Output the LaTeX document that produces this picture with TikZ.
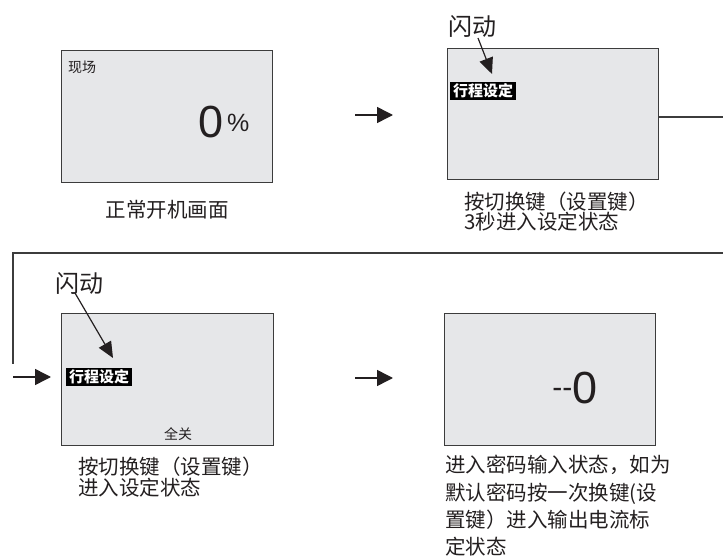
\documentclass[tikz,border=0pt]{standalone}
\usepackage{fontspec}
\setmainfont{Liberation Sans}
\newfontfamily\cjk{Noto Sans CJK SC}
\usetikzlibrary{arrows.meta}
\definecolor{screen}{HTML}{E6E7E9}
\definecolor{frame}{HTML}{3C3C3C}
\definecolor{ink}{HTML}{231F20}
\begin{document}
\begin{tikzpicture}[x=1pt,y=-1pt,
  screenbox/.style={draw=frame, line width=1.3pt, fill=screen, minimum width=211pt,
    minimum height=132pt, inner sep=0pt, anchor=north west},
  captxt/.style={font=\cjk\fontsize{20.5}{20.5}\selectfont, inner sep=0pt, anchor=base west, text=ink},
  flashtxt/.style={font=\cjk\fontsize{24}{24}\selectfont, inner sep=0pt, anchor=base west, text=ink},
  smalltxt/.style={font=\cjk\fontsize{14}{14}\selectfont, inner sep=0pt, text=ink},
  tagbox/.style={fill=black, text=white, font=\cjk\bfseries\fontsize{15}{15}\selectfont,
    inner xsep=3pt, inner ysep=2pt, anchor=west},
  bigtxt/.style={font=\fontsize{45}{45}\selectfont, inner sep=0pt, text=ink},
  flowarrow/.style={line width=1.5pt, draw=ink, -{Triangle[length=16pt,width=16pt]}},
  hintarrow/.style={line width=1.2pt, draw=ink, -{Triangle[length=16pt,width=14pt]}},
  loopline/.style={line width=1.2pt, draw=frame}
]
\useasboundingbox (0,0) rectangle (723,556);

% screens
\node[screenbox] (s1) at (61,50) {};
\node[screenbox, minimum height=131pt] (s2) at (447,48) {};
\node[screenbox, minimum width=212pt] (s3) at (61,313) {};
\node[screenbox] (s4) at (444,313) {};

% screen 1
\node[smalltxt, anchor=base west] (s1t) at (68,72.5) {现场};
\node[bigtxt, anchor=base] (s1n) at (211,138) {0};
\node[font=\fontsize{25}{25}\selectfont, inner sep=0pt, text=ink, anchor=base west] (s1p) at (227,132) {\%};
\node[captxt, anchor=base] (c1) at (167,217.5) {正常开机画面};

% screen 2
\node[flashtxt] (f2) at (448,36) {闪动};
\node[tagbox] (t2) at (450,91) {行程设定};
\coordinate (f2a) at (478,38);
\coordinate (f2b) at (492,74);
\draw[hintarrow] (f2a) -- (f2b);
\node[captxt] (c2a) at (464,209.5) {按切换键（设置键）};
\node[captxt] (c2b) at (464,229.5) {3秒进入设定状态};

% screen 3
\node[flashtxt] (f3) at (55,292) {闪动};
\node[tagbox] (t3) at (66,377) {行程设定};
\coordinate (f3a) at (75,293);
\coordinate (f3b) at (113,358);
\draw[hintarrow] (f3a) -- (f3b);
\node[smalltxt, anchor=base] (s3t) at (178,439.5) {全关};
\node[captxt] (c3a) at (78,474.5) {按切换键（设置键）};
\node[captxt] (c3b) at (78,495.5) {进入设定状态};

% screen 4
\node[bigtxt, anchor=base east] (s4n) at (598,403) {0};
\node[font=\fontsize{30}{30}\selectfont, inner sep=0pt, text=ink, anchor=base east] (s4d) at (s4n.base west) {\raisebox{6pt}{{-}{-}}};
\node[captxt] (c4a) at (445,472.5) {进入密码输入状态，如为};
\node[captxt] (c4b) at (445,500.5) {默认密码按一次换键(设};
\node[captxt] (c4c) at (445,527.5) {置键）进入输出电流标};
\node[captxt] (c4d) at (445,554.5) {定状态};

% flow arrows
\coordinate (a1s) at (355,115);
\coordinate (a1e) at (393,115);
\draw[flowarrow] (a1s) -- (a1e);
\coordinate (a2s) at (355,378);
\coordinate (a2e) at (393,378);
\draw[flowarrow] (a2s) -- (a2e);
\coordinate (a3s) at (13,377);
\coordinate (a3e) at (51,377);
\draw[flowarrow] (a3s) -- (a3e);

% loop line from screen 2 back to screen 3
\coordinate (l1) at (728,117);
\coordinate (l2) at (728,253);
\coordinate (l3) at (13,253);
\coordinate (l4) at (13,364);
\draw[loopline] (s2.east |- l1) -- (l1) -- (l2) -- (l3) -- (l4);
\end{tikzpicture}
\end{document}
